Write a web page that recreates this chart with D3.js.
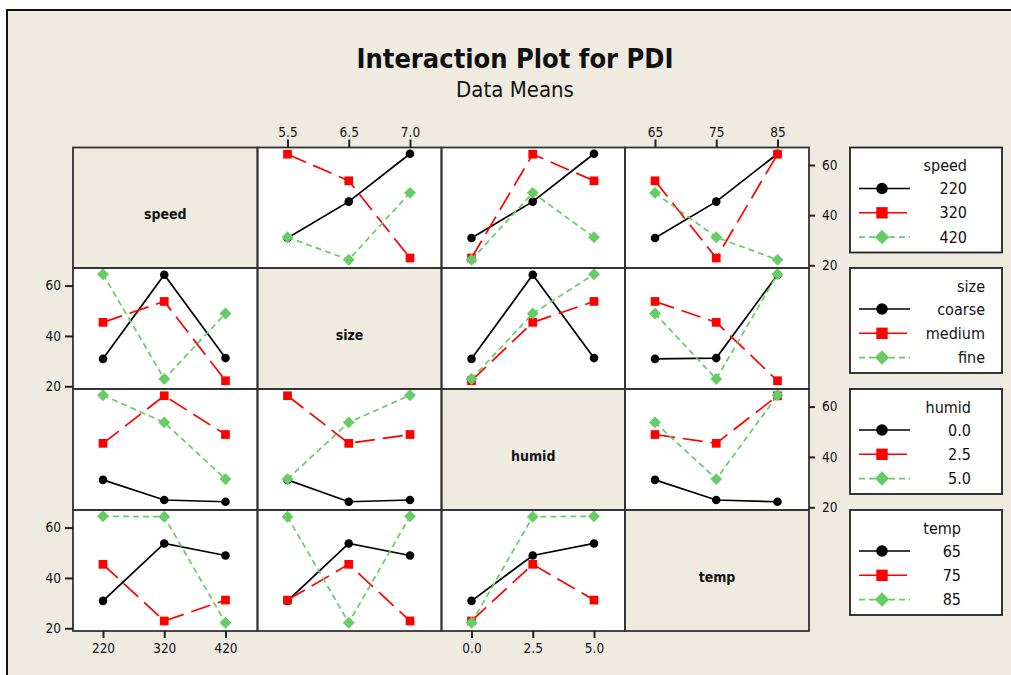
<!DOCTYPE html>
<html>
<head>
<meta charset="utf-8">
<script src="https://cdn.jsdelivr.net/npm/d3@7"></script>
<style>
  html, body { margin: 0; padding: 0; background: #ffffff; }
  svg { display: block; }
  text { font-family: "DejaVu Sans Condensed", "DejaVu Sans", sans-serif; font-stretch: condensed; fill: #111; }
</style>
</head>
<body>
<svg id="chart" width="1011" height="675"></svg>
<script>
// ---- factors and their levels ----
const factors = ["speed", "size", "humid", "temp"];
const speedLevels = ["220", "320", "420"];
const sizeLevels = ["5.5", "6.5", "7.0"];
const sizeNames = ["coarse", "medium", "fine"];
const humidLevels = ["0.0", "2.5", "5.0"];
const tempLevels = ["65", "75", "85"];

// ---- L9 orthogonal array: level index of each factor per run ----
const runSpeed = [0, 0, 0, 1, 1, 1, 2, 2, 2];
const runSize  = [0, 1, 2, 0, 1, 2, 0, 1, 2];
const runHumid = [0, 1, 2, 1, 2, 0, 2, 0, 1];
const runTemp  = [0, 1, 2, 2, 0, 1, 1, 2, 0];

// ---- measured PDI for each run ----
const pdi = [30.9, 45.4, 64.5, 64.3, 53.7, 22.9, 31.2, 22.2, 48.9];

const yTicks = [20, 40, 60];

const axisLevels = [speedLevels, sizeLevels, humidLevels, tempLevels];
const legendLabels = [speedLevels, sizeNames, humidLevels, tempLevels];
const runLevels = [runSpeed, runSize, runHumid, runTemp];

// ---- layout ----
const W = 1011, H = 675;
const colX = [73, 257.5, 441.5, 625, 809];
const rowY = [147.5, 268, 389, 510, 631];
const beige = "#efebe1";
const frameColor = "#333";

const styles = [
  { color: "#000000", dash: null,   symbol: d3.symbolCircle, size: 58, legendSize: 105, rot: 0 },
  { color: "#ff0000", dash: "20,8", symbol: d3.symbolSquare, size: 76, legendSize: 130, rot: 0 },
  { color: "#66cc66", dash: "6,4",  symbol: d3.symbolSquare, size: 70, legendSize: 105, rot: 45 }
];

// right edge of the text column in each legend box
const legendTextRight = [967, 985, 971, 961];

const svg = d3.select("#chart");

// page background and frame
svg.append("rect").attr("x", 0).attr("y", 0).attr("width", W).attr("height", H).attr("fill", "#ffffff");
svg.append("rect")
  .attr("x", 7).attr("y", 10).attr("width", W + 20).attr("height", H + 20)
  .attr("fill", beige).attr("stroke", "#111").attr("stroke-width", 2);

// titles
svg.append("text")
  .attr("x", 515).attr("y", 67.5)
  .attr("text-anchor", "middle")
  .style("font-size", "27px").style("font-weight", "bold")
  .text("Interaction Plot for PDI");
svg.append("text")
  .attr("x", 515).attr("y", 96.5)
  .attr("text-anchor", "middle")
  .style("font-size", "22px")
  .text("Data Means");

// mean PDI of runs at level a of factor fa and level b of factor fb
function cellMean(fa, a, fb, b) {
  const vals = pdi.filter((v, i) => runLevels[fa][i] === a && runLevels[fb][i] === b);
  return d3.mean(vals);
}

const xScales = factors.map((f, c) =>
  d3.scalePoint().domain(axisLevels[c]).range([colX[c] + 30, colX[c] + 152.5]));
const yScales = factors.map((f, r) =>
  d3.scaleLinear().domain([18.92, 66.98]).range([rowY[r + 1], rowY[r]]));

const panels = svg.append("g");

factors.forEach((rf, r) => {
  factors.forEach((cf, c) => {
    const g = panels.append("g");
    const x0 = colX[c], y0 = rowY[r], w = colX[c + 1] - colX[c], h = rowY[r + 1] - rowY[r];
    g.append("rect")
      .attr("x", x0).attr("y", y0).attr("width", w).attr("height", h)
      .attr("fill", r === c ? beige : "#ffffff");
    if (r === c) {
      g.append("text")
        .attr("x", x0 + w / 2).attr("y", y0 + h / 2 + 11)
        .attr("text-anchor", "middle")
        .style("font-size", "14px").style("font-weight", "bold")
        .text(rf);
      return;
    }
    const xs = xScales[c], ys = yScales[r];
    const line = d3.line().x(d => xs(d.lv)).y(d => ys(d.v));
    [0, 1, 2].forEach(s => {
      const pts = axisLevels[c].map((lv, k) => ({ lv, v: cellMean(r, s, c, k) }));
      const st = styles[s];
      g.append("path")
        .attr("d", line(pts))
        .attr("fill", "none")
        .attr("stroke", st.color)
        .attr("stroke-width", 1.7)
        .attr("stroke-dasharray", st.dash);
      g.selectAll(null).data(pts).enter().append("path")
        .attr("d", d3.symbol().type(st.symbol).size(st.size))
        .attr("transform", d => `translate(${xs(d.lv)},${ys(d.v)}) rotate(${st.rot})`)
        .attr("fill", st.color);
    });
  });
});

// panel borders drawn on top
factors.forEach((rf, r) => {
  factors.forEach((cf, c) => {
    panels.append("rect")
      .attr("x", colX[c]).attr("y", rowY[r])
      .attr("width", colX[c + 1] - colX[c]).attr("height", rowY[r + 1] - rowY[r])
      .attr("fill", "none").attr("stroke", frameColor).attr("stroke-width", 1.8);
  });
});

// axes
function styleAxis(g) {
  g.select(".domain").remove();
  g.selectAll(".tick line").attr("stroke", "#222").attr("stroke-width", 2);
  g.selectAll(".tick text")
    .style("font-family", "\"DejaVu Sans Condensed\", \"DejaVu Sans\", sans-serif")
    .style("font-size", "13.5px").attr("fill", "#111");
}
[1, 3].forEach(r => {
  svg.append("g").attr("transform", `translate(${colX[0]},0)`)
    .call(d3.axisLeft(yScales[r]).tickValues(yTicks).tickSize(8).tickPadding(4))
    .call(styleAxis);
});
[0, 2].forEach(r => {
  svg.append("g").attr("transform", `translate(${colX[4]},0)`)
    .call(d3.axisRight(yScales[r]).tickValues(yTicks).tickSize(6).tickPadding(7))
    .call(styleAxis);
});
[1, 3].forEach(c => {
  svg.append("g").attr("transform", `translate(0,${rowY[0]})`)
    .call(d3.axisTop(xScales[c]).tickSize(8).tickPadding(3))
    .call(styleAxis);
});
[0, 2].forEach(c => {
  svg.append("g").attr("transform", `translate(0,${rowY[4]})`)
    .call(d3.axisBottom(xScales[c]).tickSize(7).tickPadding(5))
    .call(styleAxis);
});

// legends, one box per factor
factors.forEach((f, r) => {
  const top = rowY[r], lx = 850, lw = 152, lh = 105;
  const g = svg.append("g");
  g.append("rect")
    .attr("x", lx).attr("y", top).attr("width", lw).attr("height", lh)
    .attr("fill", "#ffffff").attr("stroke", "#222").attr("stroke-width", 1.8);
  const tx = legendTextRight[r];
  g.append("text")
    .attr("x", tx).attr("y", top + 18).attr("dy", "0.35em")
    .attr("text-anchor", "end").style("font-size", "16px")
    .text(f);
  legendLabels[r].forEach((lab, s) => {
    const st = styles[s];
    const cy = top + 41 + s * 24.3;
    g.append("line")
      .attr("x1", 859).attr("x2", 910).attr("y1", cy).attr("y2", cy)
      .attr("stroke", st.color).attr("stroke-width", 1.6)
      .attr("stroke-dasharray", st.dash);
    g.append("path")
      .attr("d", d3.symbol().type(st.symbol).size(st.legendSize))
      .attr("transform", `translate(882,${cy}) rotate(${st.rot})`)
      .attr("fill", st.color);
    g.append("text")
      .attr("x", tx).attr("y", cy).attr("dy", "0.35em")
      .attr("text-anchor", "end").style("font-size", "16px")
      .text(lab);
  });
});
</script>
</body>
</html>
